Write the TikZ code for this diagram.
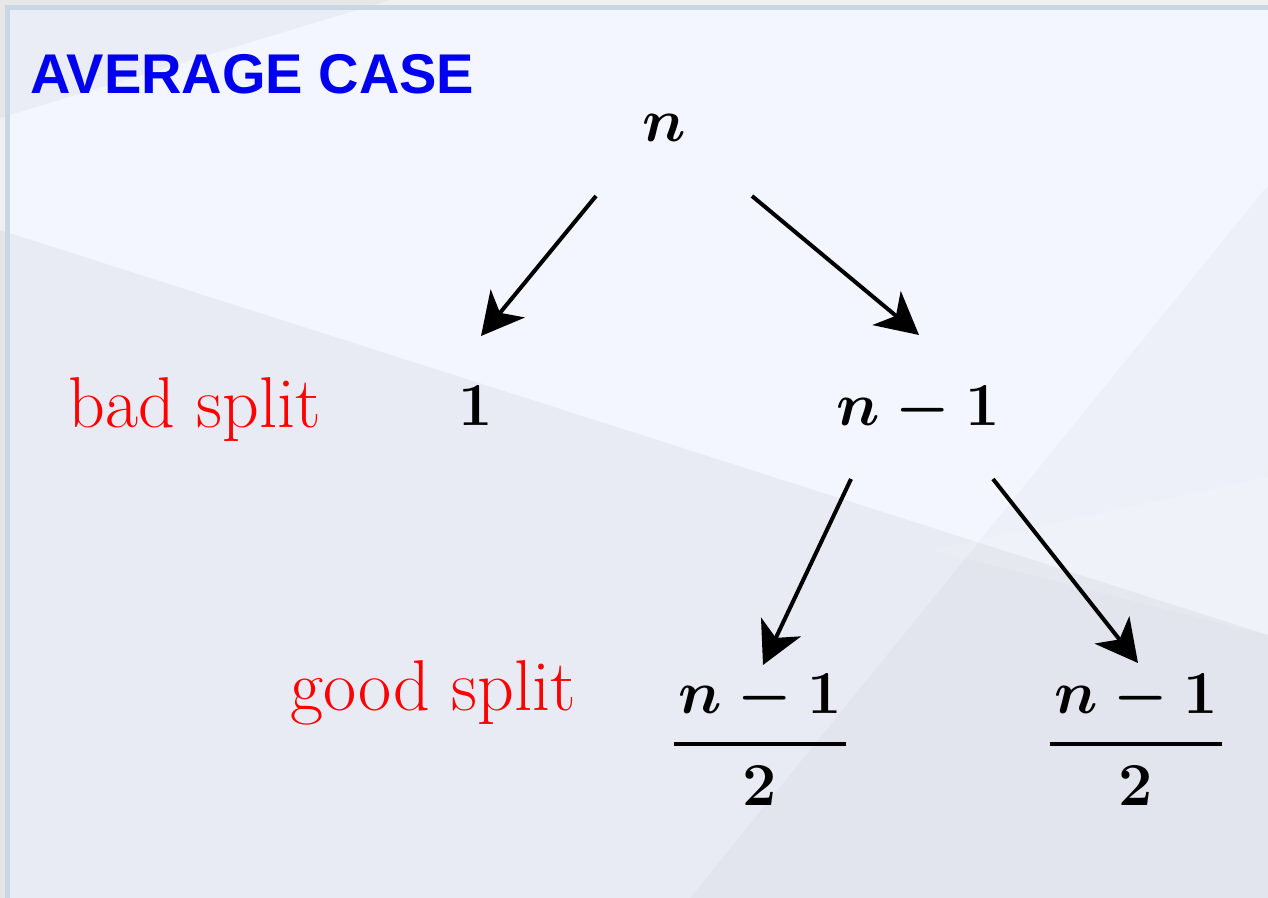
\RequirePackage{fix-cm}
\documentclass[tikz,border=0pt]{standalone}
\usepackage{fontspec}
\usepackage{amsmath}
\newfontfamily\headfont{Liberation Sans}
\usetikzlibrary{arrows.meta}
\definecolor{outerbg}{HTML}{F0F0F1}
\definecolor{panelbg}{HTML}{F3F6FE}
\definecolor{panelborder}{HTML}{C9D6E6}
\definecolor{headblue}{HTML}{0000F0}
\tikzset{
  mathlbl/.style={inner sep=0pt, anchor=base, font=\fontsize{30.5}{38}\selectfont\boldmath},
  splitlbl/.style={inner sep=0pt, anchor=base west, text=red, font=\fontsize{36}{42}\selectfont},
  headlbl/.style={inner sep=0pt, anchor=base west, text=headblue, font=\headfont\bfseries\fontsize{28}{32}\selectfont},
  treearrow/.style={line width=2pt, -{Stealth[length=21pt,width=22pt,inset=6pt]}},
}
\begin{document}
\begin{tikzpicture}[x=0.5pt,y=-0.5pt]
\useasboundingbox (0,0) rectangle (1268,898);
\clip (0,0) rectangle (1268,898);
% background
\fill[outerbg] (0,0) rectangle (1268,898);
\fill[panelbg] (7.5,7.5) rectangle (1290,920);
\fill[black,opacity=0.035] (0,0) -- (390,0) -- (0,118) -- cycle;
\fill[black,opacity=0.045] (0,230) -- (1268,635) -- (1268,898) -- (0,898) -- cycle;
\fill[black,opacity=0.025] (690,898) -- (1268,185) -- (1268,898) -- cycle;
\fill[white,opacity=0.15] (932,550) -- (1268,477) -- (1268,635) -- cycle;
\draw[panelborder,line width=2.5pt] (7.5,7.5) rectangle (1290,920);
% texts
\node[headlbl] (title) at (30,94) {AVERAGE CASE};
\node[mathlbl] (root) at (664,142) {$n$};
\node[mathlbl] (one) at (476,425) {$1$};
\node[mathlbl] (nm1) at (918,425) {$n-1$};
\node[mathlbl] (fl) at (760,759) {$\genfrac{}{}{1.8pt}{0}{\mkern1mu n-1\mkern1mu}{2}$};
\node[mathlbl] (fr) at (1136,759) {$\genfrac{}{}{1.8pt}{0}{\mkern1mu n-1\mkern1mu}{2}$};
\node[splitlbl] (bad) at (68,428) {bad split};
\node[splitlbl] (good) at (290,710) {good split};
% arrow ends
\coordinate (r1) at (596,196);
\coordinate (o1) at (481,336);
\coordinate (r2) at (752,196);
\coordinate (m1) at (919,335);
\coordinate (m2) at (851,479);
\coordinate (fl1) at (763,665);
\coordinate (m3) at (993,479);
\coordinate (fr1) at (1138,663);
\draw[treearrow] (r1) -- (o1);
\draw[treearrow] (r2) -- (m1);
\draw[treearrow] (m2) -- (fl1);
\draw[treearrow] (m3) -- (fr1);
\end{tikzpicture}
\end{document}
